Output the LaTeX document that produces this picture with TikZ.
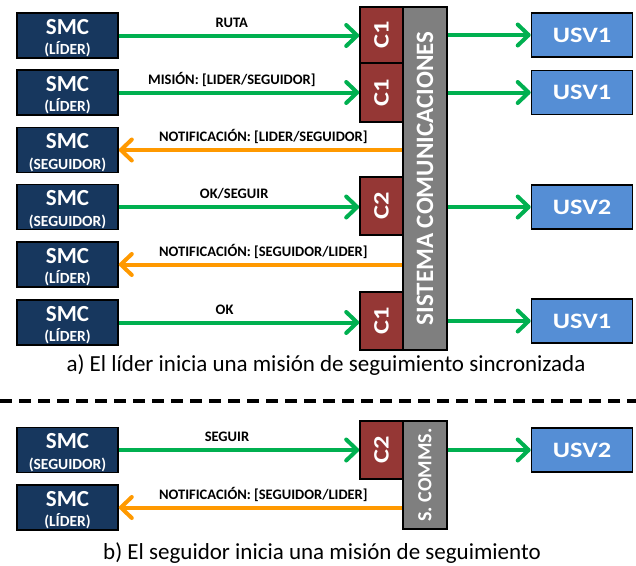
\documentclass[tikz,border=0pt]{standalone}
\usepackage{fontspec}
\setmainfont{Carlito}
\usetikzlibrary{arrows.meta}
\definecolor{smcblue}{HTML}{17375E}
\definecolor{usvblue}{HTML}{558ED5}
\definecolor{cred}{HTML}{953735}
\definecolor{cgray}{HTML}{7F7F7F}
\definecolor{agreen}{HTML}{00B050}
\definecolor{aorange}{HTML}{FF9900}
\tikzset{
  box/.style={draw=black, line width=1.6pt, rectangle, inner sep=0pt},
  smcbox/.style={box, fill=smcblue, minimum width=101pt, minimum height=45pt},
  smctitle/.style={text=white, font=\bfseries\fontsize{23}{23}\selectfont, inner sep=0pt, anchor=base},
  smcsub/.style={text=white, font=\bfseries\fontsize{15.5}{15.5}\selectfont, inner sep=0pt, anchor=base},
  usvbox/.style={box, fill=usvblue, minimum width=101pt, minimum height=44pt, text=white, font=\bfseries\fontsize{22}{22}\selectfont},
  cbox/.style={box, fill=cred, minimum width=43pt, text=white, font=\bfseries\fontsize{22}{22}\selectfont},
  graybox/.style={box, fill=cgray, minimum width=44pt, text=white, font=\bfseries\fontsize{25}{25}\selectfont},
  garrow/.style={draw=agreen, line width=4pt, -{Straight Barb[length=11pt,width=21pt,round]}},
  oarrow/.style={draw=aorange, line width=4pt, -{Straight Barb[length=11pt,width=21pt,round]}},
  lbl/.style={font=\bfseries\fontsize{14.5}{14.5}\selectfont, inner sep=0pt, anchor=base, yshift=8.5pt},
  caption/.style={font=\fontsize{23}{23}\selectfont, inner sep=0pt},
}
\newcommand{\hs}[1]{\scalebox{1.2}[1]{#1}}
\begin{document}
\begin{tikzpicture}[x=1pt,y=-1pt]
\useasboundingbox (0,0) rectangle (636,565);
% ---------- part a ----------
% SMC boxes
\node[smcbox] (s1) at (67.5,35.5) {};
\node[smcbox] (s2) at (67.5,92.5) {};
\node[smcbox] (s3) at (67.5,150) {};
\node[smcbox] (s4) at (67.5,207) {};
\node[smcbox] (s5) at (67.5,264.5) {};
\node[smcbox] (s6) at (67.5,322.5) {};
\node[smctitle] (s1t) at ([yshift=1.5pt]s1.center) {SMC};
\node[smcsub] (s1s) at ([yshift=-19pt]s1.center) {(LÍDER)};
\node[smctitle] (s2t) at ([yshift=1.5pt]s2.center) {SMC};
\node[smcsub] (s2s) at ([yshift=-19pt]s2.center) {(LÍDER)};
\node[smctitle] (s3t) at ([yshift=1.5pt]s3.center) {SMC};
\node[smcsub] (s3s) at ([yshift=-19pt]s3.center) {(SEGUIDOR)};
\node[smctitle] (s4t) at ([yshift=1.5pt]s4.center) {SMC};
\node[smcsub] (s4s) at ([yshift=-19pt]s4.center) {(SEGUIDOR)};
\node[smctitle] (s5t) at ([yshift=1.5pt]s5.center) {SMC};
\node[smcsub] (s5s) at ([yshift=-19pt]s5.center) {(LÍDER)};
\node[smctitle] (s6t) at ([yshift=1.5pt]s6.center) {SMC};
\node[smcsub] (s6s) at ([yshift=-19pt]s6.center) {(LÍDER)};
% communication system
\node[graybox, minimum height=343pt] (sys) at (425,178.5) {\rotatebox{90}{SISTEMA COMUNICACIONES}};
\node[cbox, minimum height=56pt] (c1) at (381.5,35) {\rotatebox{90}{\hs{C1}}};
\node[cbox, minimum height=59pt] (c2) at (381.5,92.5) {\rotatebox{90}{\hs{C1}}};
\node[cbox, minimum height=58pt] (c4) at (381.5,206) {\rotatebox{90}{\hs{C2}}};
\node[cbox, minimum height=58pt] (c6) at (381.5,321) {\rotatebox{90}{\hs{C1}}};
% USV boxes
\node[usvbox] (u1) at (582,35) {\hs{USV1}};
\node[usvbox] (u2) at (582,92.5) {\hs{USV1}};
\node[usvbox] (u4) at (582,207) {\hs{USV2}};
\node[usvbox] (u6) at (582,321) {\hs{USV1}};
% arrows
\draw[garrow] (s1.east) -- node[lbl, pos=0.47] {RUTA} (s1.east -| c1.west);
\draw[garrow] (s2.east) -- node[lbl, pos=0.47] {MISIÓN: [LIDER/SEGUIDOR]} (s2.east -| c2.west);
\draw[oarrow] (s3.east -| sys.west) -- node[lbl, pos=0.49] {NOTIFICACIÓN: [LIDER/SEGUIDOR]} (s3.east);
\draw[garrow] (s4.east) -- node[lbl, pos=0.48] {OK/SEGUIR} (s4.east -| c4.west);
\draw[oarrow] (s5.east -| sys.west) -- node[lbl, pos=0.49] {NOTIFICACIÓN: [SEGUIDOR/LIDER]} (s5.east);
\draw[garrow] (s6.east) -- node[lbl, pos=0.44] {OK} (s6.east -| c6.west);
\draw[garrow] (u1.west -| sys.east) -- (u1.west);
\draw[garrow] (u2.west -| sys.east) -- (u2.west);
\draw[garrow] (u4.west -| sys.east) -- (u4.west);
\draw[garrow] (u6.west -| sys.east) -- (u6.west);
\node[caption] (capa) at (326,365) {a) El líder inicia una misión de seguimiento sincronizada};
% separator
\coordinate (dl) at (0,401);
\coordinate (dr) at (636,401);
\draw[line width=4pt, dash pattern=on 12pt off 7pt] (dl) -- (dr);
% ---------- part b ----------
\node[smcbox] (b1) at (67.5,450) {};
\node[smcbox] (b2) at (67.5,507.5) {};
\node[smctitle] (b1t) at ([yshift=1.5pt]b1.center) {SMC};
\node[smcsub] (b1s) at ([yshift=-19pt]b1.center) {(SEGUIDOR)};
\node[smctitle] (b2t) at ([yshift=1.5pt]b2.center) {SMC};
\node[smcsub] (b2s) at ([yshift=-19pt]b2.center) {(LÍDER)};
\node[graybox, minimum height=108pt] (bsys) at (425,475) {\rotatebox{90}{\fontsize{20}{20}\selectfont S. COMMS.}};
\node[cbox, minimum height=58pt] (bc) at (381.5,450) {\rotatebox{90}{\hs{C2}}};
\node[usvbox] (bu) at (582,450) {\hs{USV2}};
\draw[garrow] (b1.east) -- node[lbl, pos=0.45] {SEGUIR} (b1.east -| bc.west);
\draw[oarrow] (b2.east -| bsys.west) -- node[lbl, pos=0.49] {NOTIFICACIÓN: [SEGUIDOR/LIDER]} (b2.east);
\draw[garrow] (bu.west -| bsys.east) -- (bu.west);
\node[caption] (capb) at (322,553) {b) El seguidor inicia una misión de seguimiento};
\end{tikzpicture}
\end{document}
